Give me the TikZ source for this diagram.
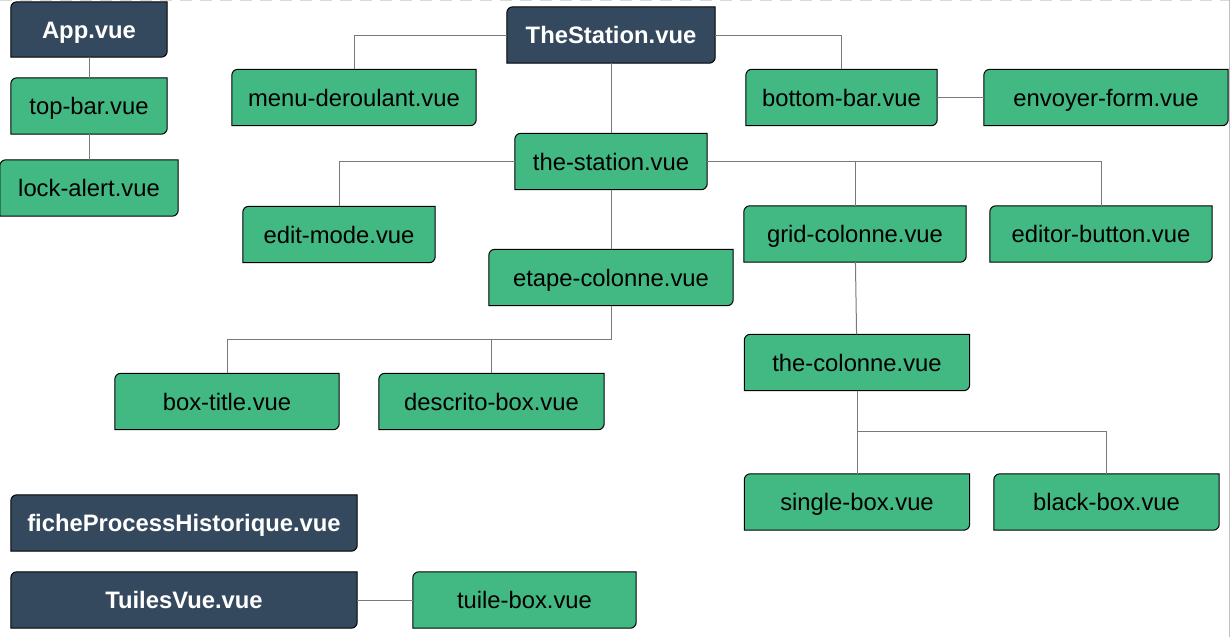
\documentclass[tikz,border=0pt]{standalone}
\usepackage{fontspec}
\setmainfont{Liberation Sans}
\usetikzlibrary{backgrounds}
\definecolor{vuegreen}{HTML}{42B883}
\definecolor{vuedark}{HTML}{35495E}
\definecolor{linkgray}{HTML}{7A7A7A}
% box with rounded top-left and bottom-right corners
\newcommand{\compshape}[2]{%
  \draw[#2] (#1.south west) -- ([yshift=-6pt]#1.north west)
    arc[start angle=180,end angle=90,radius=6pt] -- (#1.north east)
    -- ([yshift=6pt]#1.south east)
    arc[start angle=0,end angle=-90,radius=6pt] -- cycle;}
\begin{document}
\begin{tikzpicture}[x=1pt,y=-1pt,
  comp/.style={minimum height=56pt,inner sep=0pt,text height=20pt,text depth=3pt,
    font=\fontsize{23.8}{28}\selectfont},
  parent/.style={comp,text=white,font=\fontsize{23.8}{28}\selectfont\bfseries},
  link/.style={draw=linkgray,line width=1pt}]
\useasboundingbox (0,0) rectangle (1230,637);
% page edges
\draw[gray!30,dashed,dash pattern=on 12pt off 8pt] (0,0.5) -- (1230,0.5);
\draw[gray!50] (1229,0) -- (1229,637);

\node[parent,minimum width=156pt,minimum height=55pt] (app) at (89,29.5) {App.vue};
\node[comp,minimum width=156pt] (topbar) at (89,106) {top-bar.vue};
\node[comp,minimum width=178pt] (lockalert) at (89,188) {lock-alert.vue};
\node[parent,minimum width=208pt] (thestation) at (611,35) {TheStation.vue};
\node[comp,minimum width=244pt] (menu) at (354,97.5) {menu-deroulant.vue};
\node[comp,minimum width=191pt] (bottombar) at (841.5,97.5) {bottom-bar.vue};
\node[comp,minimum width=244pt] (envoyer) at (1106,97.5) {envoyer-form.vue};
\node[comp,minimum width=192pt] (station) at (611,161.5) {the-station.vue};
\node[comp,minimum width=192pt] (editmode) at (339,234.5) {edit-mode.vue};
\node[comp,minimum width=244pt] (etape) at (611,277.5) {etape-colonne.vue};
\node[comp,minimum width=222pt] (grid) at (855,234) {grid-colonne.vue};
\node[comp,minimum width=222pt] (editor) at (1101,234) {editor-button.vue};
\node[comp,minimum width=225pt] (colonne) at (857,362.5) {the-colonne.vue};
\node[comp,minimum width=225pt] (single) at (857,502) {single-box.vue};
\node[comp,minimum width=225pt] (blackbox) at (1106.5,502) {black-box.vue};
\node[comp,minimum width=224pt] (boxtitle) at (227,401.5) {box-title.vue};
\node[comp,minimum width=225pt] (descrito) at (491.5,401.5) {descrito-box.vue};
\node[parent,minimum width=346pt] (fiche) at (184,523) {ficheProcessHistorique.vue};
\node[parent,minimum width=346pt] (tuiles) at (184,600) {TuilesVue.vue};
\node[comp,minimum width=223pt] (tuilebox) at (524.5,600) {tuile-box.vue};

\begin{scope}[on background layer]
  \foreach \n in {app,thestation,fiche,tuiles}
    \compshape{\n}{fill=vuedark,draw=black,line width=1pt};
  \foreach \n in {topbar,lockalert,menu,bottombar,envoyer,station,editmode,etape,
      grid,editor,colonne,single,blackbox,boxtitle,descrito,tuilebox}
    \compshape{\n}{fill=vuegreen,draw=black,line width=1pt};
\end{scope}

\draw[link] (app) -- (topbar);
\draw[link] (topbar) -- (lockalert);
\draw[link] (thestation.west) -| (menu.north);
\draw[link] (thestation.east) -| (bottombar.north);
\draw[link] (thestation) -- (station);
\draw[link] (bottombar) -- (envoyer);
\draw[link] (station.west) -| (editmode.north);
\draw[link] (station.east) -| (grid.north);
\draw[link] (station.east) -| (editor.north);
\draw[link] (station) -- (etape);
\coordinate (etapesplit) at ([yshift=-34pt]etape.south);
\draw[link] (etape.south) -- (etapesplit) -| (boxtitle.north);
\draw[link] (etapesplit) -| (descrito.north);
\draw[link] (grid) -- (colonne);
\coordinate (colonnesplit) at ([yshift=-41pt]colonne.south);
\draw[link] (colonne.south) -- (colonnesplit) -| (single.north);
\draw[link] (colonnesplit) -| (blackbox.north);
\draw[link] (tuiles) -- (tuilebox);
\end{tikzpicture}
\end{document}
